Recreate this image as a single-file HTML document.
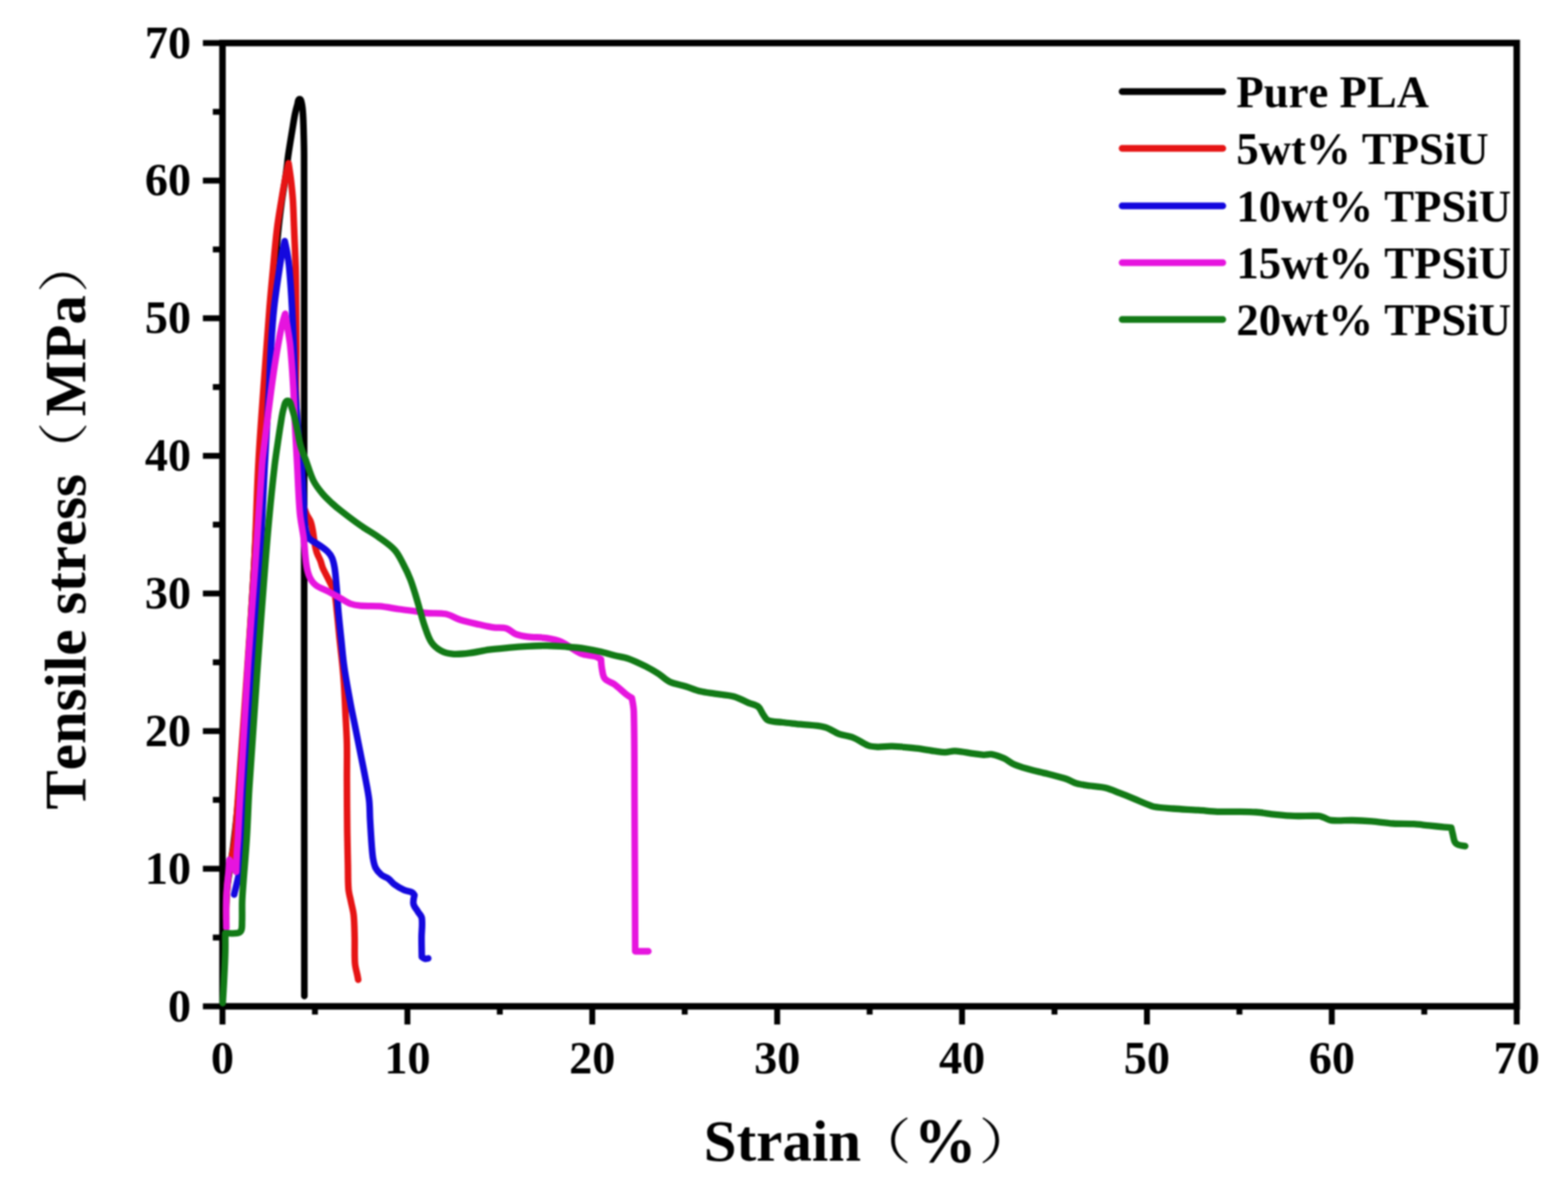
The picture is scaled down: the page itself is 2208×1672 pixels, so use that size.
<!DOCTYPE html>
<html lang="en"><head><meta charset="utf-8"><title>Tensile stress vs strain</title>
<style>
html,body{margin:0;padding:0;background:#fff;}
body{width:2208px;height:1672px;overflow:hidden;}
svg{display:block;filter:blur(0.8px);}
text{font-family:"Liberation Serif","Noto Serif CJK SC",serif;font-weight:bold;fill:#000;font-kerning:none;}
.cjk{font-family:"Liberation Serif","Noto Serif CJK SC",serif;font-weight:normal;}
.tick{font-size:65px;}
.title{font-size:83px;}
.leg{font-size:63px;}
</style></head><body>
<svg width="2208" height="1672" viewBox="0 0 2208 1672">
<rect x="0" y="0" width="2208" height="1672" fill="#ffffff"/>
<g stroke="#000" stroke-width="9.2" fill="none" stroke-linecap="butt">
<rect x="313.3" y="60.6" width="1822.5" height="1356.9"/>
<line x1="313.3" y1="1421.1" x2="313.3" y2="1443.1" stroke-width="8.3"/>
<line x1="309.7" y1="1417.5" x2="285.7" y2="1417.5" stroke-width="8.3"/>
<line x1="443.5" y1="1421.1" x2="443.5" y2="1429.1" stroke-width="8.3"/>
<line x1="309.7" y1="1320.6" x2="299.7" y2="1320.6" stroke-width="8.3"/>
<line x1="573.7" y1="1421.1" x2="573.7" y2="1443.1" stroke-width="8.3"/>
<line x1="309.7" y1="1223.7" x2="285.7" y2="1223.7" stroke-width="8.3"/>
<line x1="703.8" y1="1421.1" x2="703.8" y2="1429.1" stroke-width="8.3"/>
<line x1="309.7" y1="1126.7" x2="299.7" y2="1126.7" stroke-width="8.3"/>
<line x1="834.0" y1="1421.1" x2="834.0" y2="1443.1" stroke-width="8.3"/>
<line x1="309.7" y1="1029.8" x2="285.7" y2="1029.8" stroke-width="8.3"/>
<line x1="964.2" y1="1421.1" x2="964.2" y2="1429.1" stroke-width="8.3"/>
<line x1="309.7" y1="932.9" x2="299.7" y2="932.9" stroke-width="8.3"/>
<line x1="1094.4" y1="1421.1" x2="1094.4" y2="1443.1" stroke-width="8.3"/>
<line x1="309.7" y1="836.0" x2="285.7" y2="836.0" stroke-width="8.3"/>
<line x1="1224.6" y1="1421.1" x2="1224.6" y2="1429.1" stroke-width="8.3"/>
<line x1="309.7" y1="739.0" x2="299.7" y2="739.0" stroke-width="8.3"/>
<line x1="1354.7" y1="1421.1" x2="1354.7" y2="1443.1" stroke-width="8.3"/>
<line x1="309.7" y1="642.1" x2="285.7" y2="642.1" stroke-width="8.3"/>
<line x1="1484.9" y1="1421.1" x2="1484.9" y2="1429.1" stroke-width="8.3"/>
<line x1="309.7" y1="545.2" x2="299.7" y2="545.2" stroke-width="8.3"/>
<line x1="1615.1" y1="1421.1" x2="1615.1" y2="1443.1" stroke-width="8.3"/>
<line x1="309.7" y1="448.3" x2="285.7" y2="448.3" stroke-width="8.3"/>
<line x1="1745.3" y1="1421.1" x2="1745.3" y2="1429.1" stroke-width="8.3"/>
<line x1="309.7" y1="351.4" x2="299.7" y2="351.4" stroke-width="8.3"/>
<line x1="1875.4" y1="1421.1" x2="1875.4" y2="1443.1" stroke-width="8.3"/>
<line x1="309.7" y1="254.4" x2="285.7" y2="254.4" stroke-width="8.3"/>
<line x1="2005.6" y1="1421.1" x2="2005.6" y2="1429.1" stroke-width="8.3"/>
<line x1="309.7" y1="157.5" x2="299.7" y2="157.5" stroke-width="8.3"/>
<line x1="2135.8" y1="1421.1" x2="2135.8" y2="1443.1" stroke-width="8.3"/>
<line x1="309.7" y1="60.6" x2="285.7" y2="60.6" stroke-width="8.3"/>
</g>
<g fill="none" stroke-width="9.3" stroke-linejoin="round" stroke-linecap="round">
<path stroke="#000000" d="M318.0,1295.0 C318.0,1295.0 318.5,1264.9 320.0,1250.0 C322.0,1230.6 326.1,1211.4 328.5,1192.0 C331.8,1164.7 334.8,1137.4 337.0,1110.0 C341.6,1053.4 345.2,996.7 349.0,940.0 C352.2,891.7 355.2,843.3 358.0,795.0 C360.7,748.3 362.7,701.6 365.5,655.0 C367.7,618.3 370.3,581.7 373.0,545.0 C375.7,508.0 378.7,471.0 381.8,434.0 C383.3,415.3 385.1,396.7 386.8,378.0 C388.6,358.7 390.2,339.3 392.3,320.0 C393.6,307.3 395.3,294.6 397.0,282.0 C398.2,273.0 399.9,264.0 401.2,255.0 C402.2,248.3 403.1,241.7 404.0,235.0 C404.7,229.6 405.1,224.1 405.9,218.7 C407.7,206.6 409.7,194.6 411.7,182.5 C412.9,175.2 413.9,167.9 415.4,160.7 C416.4,155.9 417.6,151.2 419.0,146.5 C419.7,144.1 419.4,139.7 421.9,139.7 C424.4,139.7 424.5,144.1 425.0,146.5 C426.0,151.1 426.3,155.9 426.6,160.7 C427.1,168.0 427.3,175.2 427.5,182.5 C427.8,194.6 428.2,206.6 428.2,218.7 C428.4,345.8 428.3,472.9 428.3,600.0 C428.3,733.3 428.3,866.7 428.3,1000.0 C428.4,1134.3 428.5,1268.7 428.6,1403.0"/>
<path stroke="#e61414" d="M318.5,1295.0 C318.5,1295.0 318.4,1273.0 319.0,1262.0 C319.7,1250.0 320.8,1237.9 322.5,1226.0 C324.4,1213.2 328.3,1200.8 329.8,1188.0 C332.9,1162.1 334.2,1136.0 336.2,1110.0 C340.4,1053.3 344.5,996.7 348.4,940.0 C351.7,891.7 355.4,843.4 358.0,795.0 C360.5,748.4 361.3,701.6 363.8,655.0 C365.7,618.3 368.6,581.7 371.2,545.0 C373.8,508.0 376.5,471.0 379.5,434.0 C381.0,415.3 382.8,396.7 384.6,378.0 C386.3,359.7 387.8,341.3 390.0,323.0 C391.6,309.4 394.0,296.0 396.2,282.5 C397.8,272.3 399.6,262.1 401.5,252.0 C402.9,244.6 406.3,230.0 406.3,230.0 C406.3,230.0 409.0,247.3 410.0,256.0 C411.0,264.8 411.9,273.6 412.5,282.5 C413.3,296.0 413.6,309.5 414.2,323.0 C414.9,341.3 415.9,359.7 416.4,378.0 C416.9,396.7 416.8,415.3 417.0,434.0 C417.1,452.7 417.3,471.3 417.3,490.0 C417.3,510.0 416.6,530.0 416.8,550.0 C417.0,566.7 417.6,583.3 418.5,600.0 C419.4,616.7 420.8,633.3 422.0,650.0 C423.0,663.3 423.8,676.7 425.0,690.0 C425.7,697.4 426.1,704.8 427.5,712.0 C428.4,716.5 430.2,720.8 432.0,725.0 C433.5,728.5 436.2,731.4 437.5,735.0 C439.0,739.2 439.7,743.6 440.5,748.0 C441.5,753.6 442.0,759.4 443.0,765.0 C443.8,769.4 444.6,773.8 446.0,778.0 C447.4,782.2 449.7,785.9 451.3,790.0 C452.6,793.3 453.1,796.8 454.5,800.0 C457.0,805.8 460.3,811.3 463.0,817.0 C465.8,822.9 469.4,828.6 471.0,835.0 C473.2,843.8 473.5,853.0 474.5,862.0 C475.8,874.0 476.8,886.0 478.0,898.0 C479.3,910.3 480.8,922.7 482.0,935.0 C483.0,945.0 483.9,955.0 484.5,965.0 C485.4,978.3 485.9,991.7 486.5,1005.0 C487.2,1019.3 488.2,1033.5 488.5,1047.8 C488.9,1065.2 488.4,1082.6 488.5,1100.0 C488.6,1124.2 488.7,1148.3 489.0,1172.5 C489.2,1187.6 489.6,1202.7 489.9,1217.8 C490.2,1229.4 489.8,1241.0 490.8,1252.6 C491.3,1258.8 493.2,1264.7 494.4,1270.8 C495.6,1276.8 497.4,1282.8 498.0,1288.9 C499.1,1299.4 499.1,1310.0 499.4,1320.6 C499.7,1332.7 499.0,1344.8 499.9,1356.8 C500.4,1363.0 502.3,1368.9 503.5,1375.0 C503.8,1376.7 504.1,1378.3 504.4,1380.0"/>
<path stroke="#1408de" d="M329.7,1260.0 C329.7,1260.0 333.1,1246.6 334.6,1239.8 C335.6,1235.2 336.9,1230.7 337.3,1226.0 C341.1,1177.4 343.6,1128.7 347.0,1080.0 C350.2,1033.3 353.9,986.7 357.0,940.0 C360.2,891.7 363.3,843.4 366.0,795.0 C368.5,750.0 370.1,705.0 372.5,660.0 C374.4,623.3 376.8,586.7 378.8,550.0 C379.9,529.3 380.4,508.7 381.7,488.0 C382.8,469.6 384.0,451.3 386.0,433.0 C388.0,414.6 390.9,396.3 393.6,378.0 C394.7,370.3 396.0,362.6 397.5,355.0 C398.5,349.8 400.9,339.6 400.9,339.6 C400.9,339.6 403.5,351.2 404.5,357.0 C405.7,364.0 406.8,371.0 407.4,378.0 C409.0,396.3 410.2,414.7 411.2,433.0 C412.2,451.3 412.9,469.7 413.6,488.0 C414.4,508.7 414.5,529.4 415.7,550.0 C417.0,573.4 419.0,596.7 421.0,620.0 C422.1,633.4 423.9,646.6 425.0,660.0 C426.1,673.3 426.8,686.7 427.5,700.0 C428.1,711.7 428.0,723.4 429.0,735.0 C429.5,740.7 430.3,746.5 432.0,752.0 C432.9,754.8 434.3,757.5 436.5,759.5 C440.3,762.9 445.3,764.9 449.5,767.8 C453.5,770.6 457.7,773.3 461.2,776.8 C463.8,779.4 466.1,782.5 467.6,785.9 C469.5,790.4 470.4,795.2 471.2,800.0 C472.6,808.6 473.1,817.3 473.9,826.0 C475.0,838.2 475.5,850.3 476.6,862.5 C477.7,874.6 479.0,886.6 480.3,898.7 C481.8,912.5 482.8,926.3 484.8,940.0 C487.1,956.4 490.2,972.7 493.2,989.0 C495.3,1000.7 497.9,1012.3 500.2,1024.0 C502.6,1035.9 504.9,1047.7 507.3,1059.6 C509.6,1071.4 512.1,1083.2 514.3,1095.0 C516.3,1105.7 518.6,1116.4 519.8,1127.2 C520.8,1136.2 520.6,1145.3 521.1,1154.3 C521.8,1166.4 522.5,1178.5 523.4,1190.6 C523.9,1196.6 524.2,1202.7 525.2,1208.7 C526.0,1213.3 526.7,1218.1 528.8,1222.3 C530.7,1226.1 533.7,1229.4 537.0,1232.2 C539.9,1234.7 543.9,1235.4 547.0,1237.7 C550.0,1239.9 552.1,1243.3 555.1,1245.5 C559.4,1248.6 563.9,1251.4 568.7,1253.6 C572.4,1255.3 576.8,1255.4 580.5,1257.2 C581.9,1257.9 583.6,1260.8 583.6,1260.8 C583.6,1260.8 581.4,1269.3 582.3,1273.5 C583.2,1277.6 586.5,1280.7 588.6,1284.3 C590.4,1287.3 593.5,1289.9 594.0,1293.4 C595.2,1302.4 593.6,1311.5 593.6,1320.6 C593.6,1329.7 594.0,1347.8 594.0,1347.8 C594.0,1347.8 596.9,1350.1 598.6,1350.5 C600.0,1350.9 601.5,1350.2 603.0,1350.0"/>
<path stroke="#e614de" d="M318.8,1307.0 C318.8,1307.0 318.3,1282.3 318.5,1270.0 C318.6,1263.3 319.1,1256.7 319.6,1250.0 C320.2,1242.0 321.3,1234.0 322.0,1226.0 C322.4,1221.0 323.0,1211.0 323.0,1211.0 L332.5,1228.0 C332.5,1228.0 333.0,1211.3 333.5,1203.0 C333.9,1195.3 334.7,1187.7 335.1,1180.0 C336.2,1159.3 337.0,1138.7 338.2,1118.0 C341.7,1057.0 345.3,996.0 349.3,935.0 C352.4,888.3 356.2,841.7 359.5,795.0 C362.8,748.3 365.4,701.6 369.0,655.0 C369.9,643.3 371.6,631.7 373.0,620.0 C374.4,608.3 375.8,596.7 377.3,585.0 C378.8,573.3 380.2,561.7 381.8,550.0 C383.1,540.0 384.5,530.0 386.0,520.0 C387.2,511.7 388.6,503.3 390.0,495.0 C391.4,486.7 392.9,478.3 394.5,470.0 C395.5,465.0 396.5,460.0 397.8,455.0 C398.9,450.6 401.6,442.0 401.6,442.0 C401.6,442.0 404.3,457.3 405.5,465.0 C406.7,472.7 408.1,480.3 408.8,488.0 C410.6,507.0 411.9,526.0 413.0,545.0 C414.1,562.7 414.5,580.3 415.4,598.0 C416.4,617.0 417.4,636.0 418.5,655.0 C419.7,677.5 420.3,700.1 422.3,722.5 C423.4,734.7 426.2,746.6 427.7,758.7 C429.2,770.8 429.5,783.0 431.3,795.0 C432.2,801.0 433.4,807.1 435.9,812.6 C438.0,817.1 441.0,821.4 444.9,824.4 C450.2,828.5 457.0,830.3 463.0,833.5 C468.7,836.5 474.3,839.8 480.0,843.0 C484.5,845.5 488.8,848.7 493.6,850.5 C497.9,852.1 502.6,852.8 507.2,853.2 C516.2,854.0 525.3,853.1 534.3,853.9 C543.4,854.7 552.4,856.7 561.5,858.0 C570.6,859.3 579.6,860.2 588.7,861.5 C592.6,862.1 596.5,863.2 600.4,863.5 C609.4,864.3 618.7,863.0 627.6,864.8 C634.8,866.2 640.9,870.8 647.9,873.0 C656.8,875.8 666.0,877.7 675.1,879.8 C681.9,881.3 688.6,882.9 695.5,883.9 C701.4,884.7 707.5,883.5 713.2,885.2 C718.2,886.7 721.8,891.5 726.7,893.4 C731.9,895.4 737.5,896.1 743.0,896.8 C752.0,897.9 761.2,897.4 770.2,898.8 C777.2,899.9 784.2,901.3 790.6,904.2 C800.2,908.6 808.1,916.3 817.8,920.5 C824.2,923.2 831.5,922.7 838.2,924.6 C841.1,925.4 846.3,928.7 846.3,928.7 C846.3,928.7 846.8,937.8 847.7,942.3 C848.6,946.9 848.7,952.2 851.7,955.9 C855.0,960.0 861.0,960.9 865.3,964.0 C871.0,968.2 876.0,973.4 881.6,977.8 C884.2,979.8 889.8,983.3 889.8,983.3 C889.8,983.3 892.3,995.9 892.5,1002.3 C893.6,1041.5 893.3,1080.8 893.5,1120.0 C893.9,1193.3 894.5,1340.0 894.5,1340.0 L913.0,1340.0"/>
<path stroke="#127a16" d="M313.6,1413.0 C313.6,1413.0 315.0,1391.0 315.5,1380.0 C316.2,1366.7 316.9,1353.3 317.2,1340.0 C317.4,1331.5 317.2,1314.4 317.2,1314.4 C317.2,1314.4 328.5,1315.2 334.0,1314.4 C336.1,1314.1 338.6,1312.9 339.5,1311.0 C341.1,1307.7 340.7,1303.7 340.8,1300.0 C341.2,1290.0 340.7,1280.0 341.0,1270.0 C341.2,1263.3 341.7,1256.7 342.2,1250.0 C343.9,1226.7 346.0,1203.4 347.5,1180.0 C349.0,1156.7 349.5,1133.3 351.0,1110.0 C354.7,1051.6 358.8,993.3 363.0,935.0 C366.3,888.3 369.8,841.7 373.5,795.0 C375.4,770.8 377.4,746.6 379.7,722.5 C381.8,700.0 384.2,677.5 386.8,655.0 C388.0,645.0 389.5,635.0 391.0,625.0 C392.3,616.0 393.6,607.0 395.1,598.0 C396.4,590.3 397.2,582.5 399.5,575.0 C400.6,571.2 401.2,564.6 405.2,564.6 C409.2,564.6 409.7,571.3 411.0,575.0 C413.7,582.5 415.4,590.3 417.2,598.0 C419.4,607.6 420.4,617.5 423.0,627.0 C425.1,634.9 428.5,642.3 431.3,650.0 C434.6,659.0 437.0,668.4 441.3,677.0 C444.6,683.6 449.3,689.6 454.0,695.3 C458.1,700.3 462.9,704.6 467.6,709.0 C471.6,712.7 475.7,716.1 480.0,719.4 C488.9,726.4 497.9,733.3 507.2,739.8 C516.0,746.0 525.6,751.1 534.3,757.4 C541.9,762.9 549.9,768.1 556.1,775.1 C561.4,781.0 564.6,788.5 568.3,795.5 C571.8,802.1 575.0,808.9 577.8,815.9 C580.4,822.5 582.4,829.3 584.5,836.0 C586.8,843.3 588.8,850.7 590.9,858.0 C593.2,865.7 595.0,873.5 597.7,881.1 C600.5,889.0 602.7,897.2 607.2,904.2 C610.5,909.3 615.5,913.5 620.8,916.5 C625.7,919.3 631.5,920.7 637.1,921.2 C645.2,921.9 653.4,920.9 661.5,919.9 C670.6,918.8 679.6,916.4 688.7,915.1 C697.7,913.9 706.8,913.2 715.9,912.4 C724.9,911.6 734.0,910.9 743.0,910.4 C752.1,909.9 761.1,909.4 770.2,909.5 C779.3,909.6 788.3,910.3 797.4,911.0 C806.5,911.7 815.6,912.5 824.6,913.8 C831.4,914.8 838.2,916.2 844.9,917.8 C851.8,919.4 858.5,921.6 865.3,923.3 C871.6,924.9 878.2,925.4 884.3,927.6 C893.7,930.9 902.6,935.4 911.5,939.8 C917.1,942.6 922.5,945.9 927.8,949.3 C933.0,952.7 937.2,957.6 942.8,960.2 C950.1,963.6 958.2,964.6 965.9,967.0 C972.7,969.1 979.3,972.1 986.3,973.8 C993.0,975.5 999.8,976.0 1006.6,977.1 C1015.7,978.5 1025.0,978.8 1033.8,981.2 C1041.0,983.2 1047.4,987.2 1054.2,990.1 C1058.7,992.0 1064.0,992.5 1067.8,995.5 C1071.1,998.2 1072.1,1002.9 1074.6,1006.4 C1076.7,1009.3 1078.1,1013.2 1081.4,1014.5 C1087.7,1017.1 1094.9,1016.7 1101.7,1017.5 C1110.2,1018.6 1118.7,1019.2 1127.2,1020.2 C1138.5,1021.5 1150.1,1021.4 1161.1,1024.2 C1168.4,1026.0 1174.4,1031.2 1181.5,1033.8 C1188.1,1036.2 1195.4,1036.6 1201.9,1039.2 C1209.1,1042.0 1215.1,1047.3 1222.3,1050.0 C1226.6,1051.6 1231.3,1051.9 1235.9,1052.1 C1242.7,1052.3 1249.5,1050.9 1256.3,1051.2 C1267.6,1051.6 1278.9,1052.8 1290.2,1054.1 C1299.3,1055.1 1308.3,1057.0 1317.4,1058.2 C1321.9,1058.8 1326.4,1059.7 1331.0,1059.6 C1335.6,1059.5 1340.0,1057.6 1344.6,1057.8 C1353.7,1058.2 1362.7,1060.4 1371.7,1061.6 C1376.2,1062.2 1380.7,1063.1 1385.3,1063.3 C1389.2,1063.5 1393.2,1061.9 1397.0,1062.6 C1402.9,1063.6 1408.6,1065.8 1414.0,1068.3 C1418.8,1070.5 1422.8,1074.4 1427.6,1076.5 C1434.1,1079.4 1441.0,1081.3 1447.9,1083.3 C1456.9,1085.9 1466.1,1087.6 1475.1,1090.0 C1484.2,1092.4 1493.4,1094.5 1502.3,1097.5 C1507.0,1099.1 1511.1,1102.3 1515.9,1103.6 C1522.5,1105.5 1529.5,1106.0 1536.3,1107.0 C1543.1,1108.0 1550.0,1108.1 1556.6,1109.8 C1563.6,1111.6 1570.2,1114.6 1577.0,1117.2 C1583.8,1119.8 1590.6,1122.6 1597.4,1125.4 C1602.8,1127.6 1608.2,1130.0 1613.7,1132.2 C1617.3,1133.6 1620.8,1135.6 1624.6,1136.3 C1633.5,1137.9 1642.6,1138.3 1651.7,1139.0 C1663.5,1139.9 1675.4,1140.4 1687.2,1141.2 C1696.2,1141.8 1705.2,1142.9 1714.3,1143.3 C1723.4,1143.7 1732.4,1143.2 1741.5,1143.3 C1750.6,1143.4 1759.7,1143.3 1768.7,1144.0 C1777.8,1144.7 1786.8,1146.4 1795.9,1147.3 C1804.9,1148.2 1813.9,1149.1 1823.0,1149.4 C1834.3,1149.8 1845.7,1148.8 1857.0,1149.4 C1859.4,1149.5 1861.6,1150.6 1863.8,1151.4 C1867.5,1152.7 1870.8,1155.1 1874.7,1155.5 C1884.6,1156.5 1894.6,1155.3 1904.6,1155.5 C1913.6,1155.7 1922.7,1156.2 1931.7,1156.9 C1941.7,1157.7 1951.7,1159.4 1961.7,1160.0 C1971.3,1160.6 1981.0,1160.1 1990.7,1160.7 C1998.0,1161.1 2005.2,1162.2 2012.5,1162.9 C2019.7,1163.6 2027.0,1164.4 2034.2,1165.1 C2037.3,1165.4 2043.6,1165.8 2043.6,1165.8 C2043.6,1165.8 2045.0,1172.1 2045.8,1175.2 C2046.7,1178.8 2047.0,1182.7 2048.7,1186.1 C2049.5,1187.8 2051.3,1189.0 2053.0,1189.7 C2056.2,1191.0 2059.8,1191.2 2063.2,1191.9"/>
</g>
<text class="tick" x="313.3" y="1512" text-anchor="middle">0</text>
<text class="tick" x="269" y="1438.5" text-anchor="end">0</text>
<text class="tick" x="573.7" y="1512" text-anchor="middle">10</text>
<text class="tick" x="269" y="1244.7" text-anchor="end">10</text>
<text class="tick" x="834.0" y="1512" text-anchor="middle">20</text>
<text class="tick" x="269" y="1050.8" text-anchor="end">20</text>
<text class="tick" x="1094.4" y="1512" text-anchor="middle">30</text>
<text class="tick" x="269" y="857.0" text-anchor="end">30</text>
<text class="tick" x="1354.7" y="1512" text-anchor="middle">40</text>
<text class="tick" x="269" y="663.1" text-anchor="end">40</text>
<text class="tick" x="1615.1" y="1512" text-anchor="middle">50</text>
<text class="tick" x="269" y="469.3" text-anchor="end">50</text>
<text class="tick" x="1875.4" y="1512" text-anchor="middle">60</text>
<text class="tick" x="269" y="275.4" text-anchor="end">60</text>
<text class="tick" x="2135.8" y="1512" text-anchor="middle">70</text>
<text class="tick" x="269" y="81.6" text-anchor="end">70</text>
<text class="title" x="991" y="1634.7">Strain<tspan class="cjk" x="1201.4" y="1632.6" style="font-size:68.88px" textLength="82" lengthAdjust="spacingAndGlyphs">（</tspan><tspan x="1287" y="1636" style="font-size:88px">%</tspan><tspan class="cjk" x="1378.3" y="1632.6" style="font-size:68.88px" textLength="82" lengthAdjust="spacingAndGlyphs">）</tspan></text>
<g transform="translate(119.7,1142) rotate(-90)">
<text class="title" x="1.7" y="0">Tensile stress<tspan class="cjk" x="466.0" y="-4.6" style="font-size:71.34px" textLength="82" lengthAdjust="spacingAndGlyphs">（</tspan><tspan x="555.6" y="0">MPa</tspan><tspan class="cjk" x="729.2" y="-4.6" style="font-size:71.34px" textLength="82" lengthAdjust="spacingAndGlyphs">）</tspan></text>
</g>
<line x1="1580" y1="129" x2="1722" y2="129" stroke="#000000" stroke-width="9.3" stroke-linecap="round"/>
<text class="leg" x="1741" y="150.5">Pure PLA</text>
<line x1="1580" y1="209" x2="1722" y2="209" stroke="#e61414" stroke-width="9.3" stroke-linecap="round"/>
<text class="leg" x="1741" y="230.5">5wt% TPSiU</text>
<line x1="1580" y1="290" x2="1722" y2="290" stroke="#1408de" stroke-width="9.3" stroke-linecap="round"/>
<text class="leg" x="1741" y="311.5">10wt% TPSiU</text>
<line x1="1580" y1="370" x2="1722" y2="370" stroke="#e614de" stroke-width="9.3" stroke-linecap="round"/>
<text class="leg" x="1741" y="391.5">15wt% TPSiU</text>
<line x1="1580" y1="450" x2="1722" y2="450" stroke="#127a16" stroke-width="9.3" stroke-linecap="round"/>
<text class="leg" x="1741" y="471.5">20wt% TPSiU</text>
</svg></body></html>
